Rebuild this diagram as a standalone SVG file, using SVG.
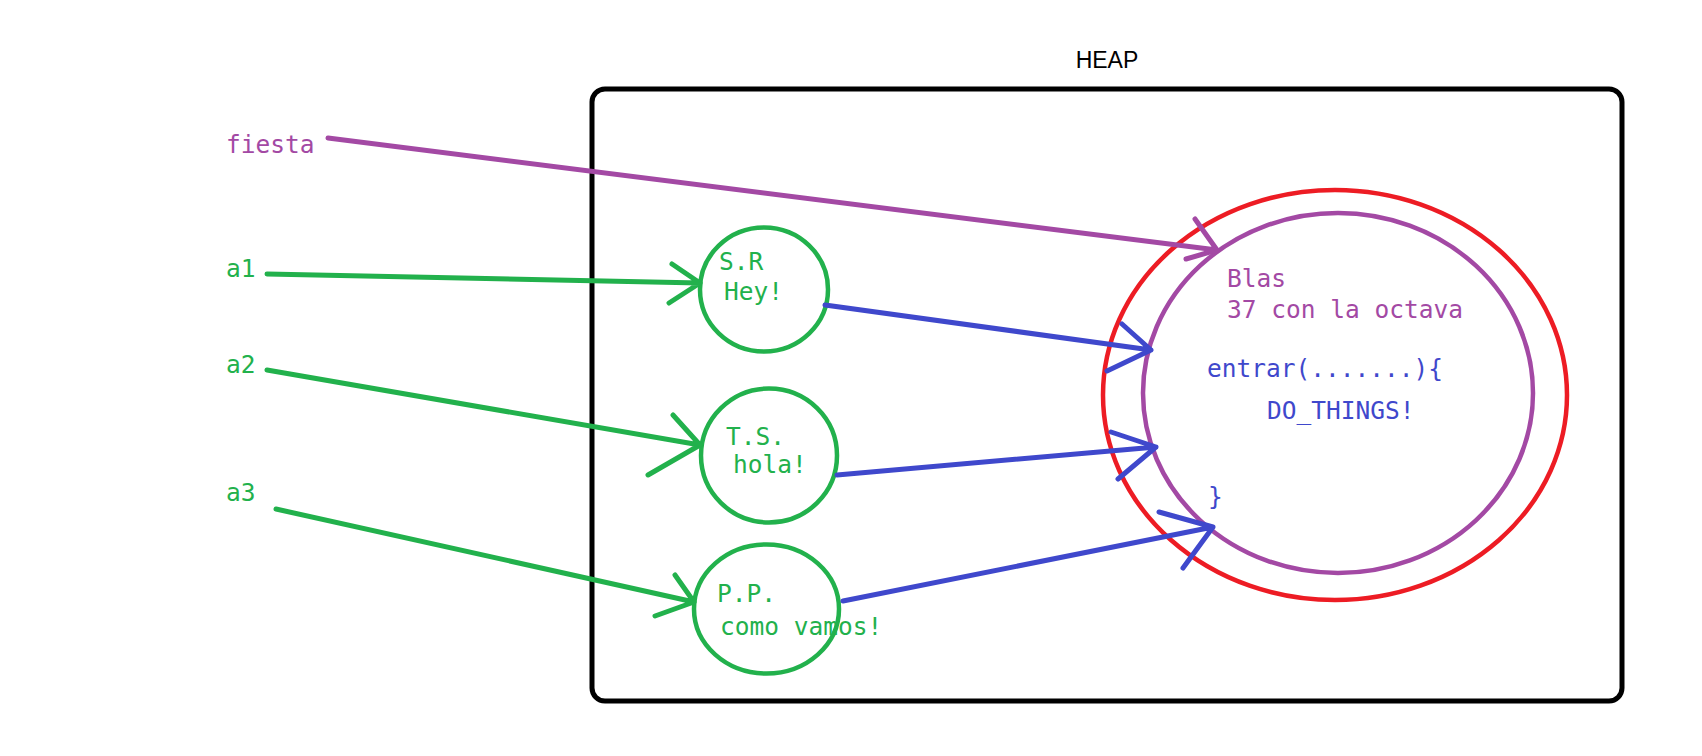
<svg xmlns="http://www.w3.org/2000/svg" width="1702" height="756" viewBox="0 0 1702 756">
<style>
.t{font-family:"DejaVu Sans Mono","Liberation Mono",monospace;font-size:24.5px}
.g{fill:#22B14C}.p{fill:#A349A4}.b{fill:#3F48CC}
.ln{fill:none;stroke-width:5;stroke-linecap:round;stroke-linejoin:round}
.sg{stroke:#22B14C}.sp{stroke:#A349A4}.sb{stroke:#3F48CC}
.c{fill:none;stroke-width:4.5}
</style>
<rect width="1702" height="756" fill="#fff"/>
<g id="heap">
<rect x="592" y="89" width="1030" height="612" rx="13" fill="none" stroke="#000" stroke-width="5"/>
<text x="1107" y="68" text-anchor="middle" font-family="Liberation Sans, Arial, sans-serif" font-size="23" fill="#000">HEAP</text>
</g>
<g id="vars">
<text class="t p" x="226" y="153">fiesta</text>
<text class="t g" x="226" y="277">a1</text>
<text class="t g" x="226" y="373">a2</text>
<text class="t g" x="226" y="501">a3</text>
</g>
<g id="sr">
<ellipse class="c sg" cx="764" cy="289.5" rx="64" ry="62"/>
<text class="t g" x="719" y="270">S.R</text>
<text class="t g" x="724" y="300">Hey!</text>
</g>
<g id="ts">
<ellipse class="c sg" cx="769" cy="455.5" rx="68" ry="67"/>
<text class="t g" x="726" y="445">T.S.</text>
<text class="t g" x="733" y="473">hola!</text>
</g>
<g id="pp">
<ellipse class="c sg" cx="766.5" cy="609" rx="72.5" ry="64.5"/>
<text class="t g" x="717" y="602">P.P.</text>
<text class="t g" x="720" y="635">como vamos!</text>
</g>
<g id="blas">
<ellipse class="c" cx="1335" cy="395" rx="232" ry="205" stroke="#ED1C24"/>
<ellipse class="c sp" cx="1338" cy="393" rx="195" ry="180"/>
<text class="t p" x="1227" y="287">Blas</text>
<text class="t p" x="1227" y="318">37 con la octava</text>
<text class="t b" x="1207" y="377">entrar(.......){</text>
<text class="t b" x="1267" y="419">DO_THINGS!</text>
<text class="t b" x="1208" y="505">}</text>
</g>
<g id="connectors">
<path class="ln sp" d="M328 138 L1217 250 M1195 219 L1217 250 L1186 259"/>
<path class="ln sg" d="M267 274 L700 283 M672 264 L700 283 L669 303"/>
<path class="ln sg" d="M267 370 L700 445 M673 415 L700 445 L648 475"/>
<path class="ln sg" d="M276 509 L694 602 M675 575 L694 602 L655 616"/>
<path class="ln sb" d="M825 305 L1151 350 M1122 324 L1151 350 L1107 371"/>
<path class="ln sb" d="M837 475 L1156 447 M1111 432 L1156 447 L1118 479"/>
<path class="ln sb" d="M843 601 L1213 527 M1159 512 L1213 527 L1183 568"/>
</g>
</svg>
